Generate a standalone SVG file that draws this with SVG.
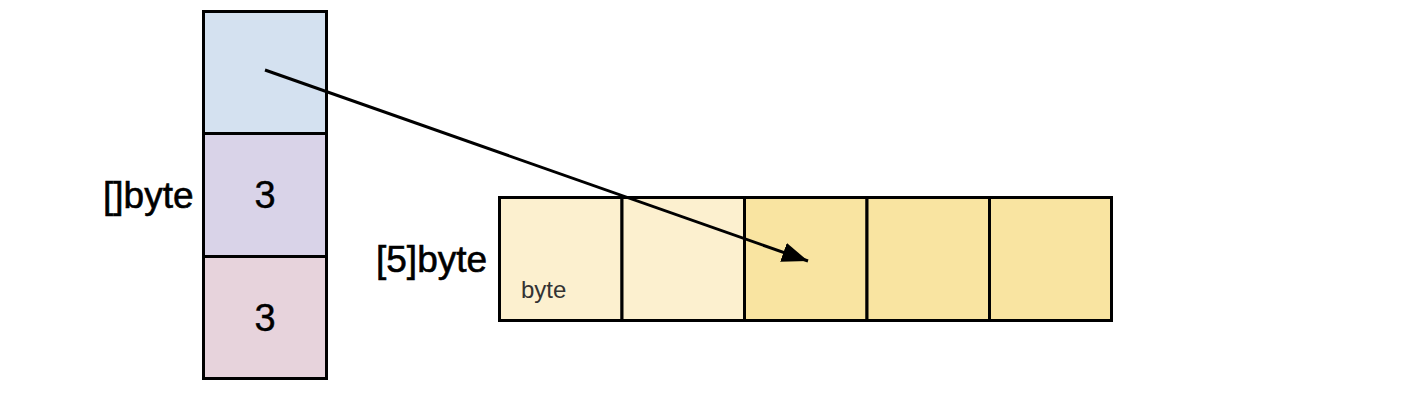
<svg xmlns="http://www.w3.org/2000/svg" width="1420" height="402" viewBox="0 0 1420 402">
<style>
.cell{stroke:#000;stroke-width:3}
.lbl{font-family:"Liberation Sans",Arial,sans-serif;fill:#000}
.big{font-size:37px;stroke:#000;stroke-width:0.6}
.num{font-size:38px;text-anchor:middle;stroke:#000;stroke-width:0.4}
.small{font-size:24px;fill:#333}
.conn{stroke:#000;stroke-width:3;fill:none}
</style>
<defs>
<marker id="ah" markerUnits="userSpaceOnUse" markerWidth="28" markerHeight="22" refX="26" refY="10" orient="auto">
<path d="M0,0 L26,10 L0,20 Z" fill="#000"/>
</marker>
</defs>
<rect width="1420" height="402" fill="#fff"/>
<g id="slice">
<text class="lbl big" x="103" y="208">[]byte</text>
<g id="slice-ptr"><rect class="cell" x="203.5" y="11.5" width="123" height="122" fill="#d4e1f0"/></g>
<g id="slice-len"><rect class="cell" x="203.5" y="133.5" width="123" height="123" fill="#d9d3e8"/><text class="lbl num" x="265" y="208">3</text></g>
<g id="slice-cap"><rect class="cell" x="203.5" y="256.5" width="123" height="122" fill="#e7d3dc"/><text class="lbl num" x="265" y="331">3</text></g>
</g>
<g id="array">
<text class="lbl big" x="376" y="272">[5]byte</text>
<g id="arr0"><rect class="cell" x="499.5" y="197.5" width="122.5" height="123" fill="#fcf0cf"/><text class="lbl small" x="521" y="298">byte</text></g>
<g id="arr1"><rect class="cell" x="622" y="197.5" width="122.5" height="123" fill="#fcf0cf"/></g>
<g id="arr2"><rect class="cell" x="744.5" y="197.5" width="122.5" height="123" fill="#f9e4a1"/></g>
<g id="arr3"><rect class="cell" x="867" y="197.5" width="122.5" height="123" fill="#f9e4a1"/></g>
<g id="arr4"><rect class="cell" x="989.5" y="197.5" width="122" height="123" fill="#f9e4a1"/></g>
</g>
<g id="connectors">
<line class="conn" x1="265" y1="70" x2="808" y2="261" marker-end="url(#ah)"/>
</g>
</svg>
